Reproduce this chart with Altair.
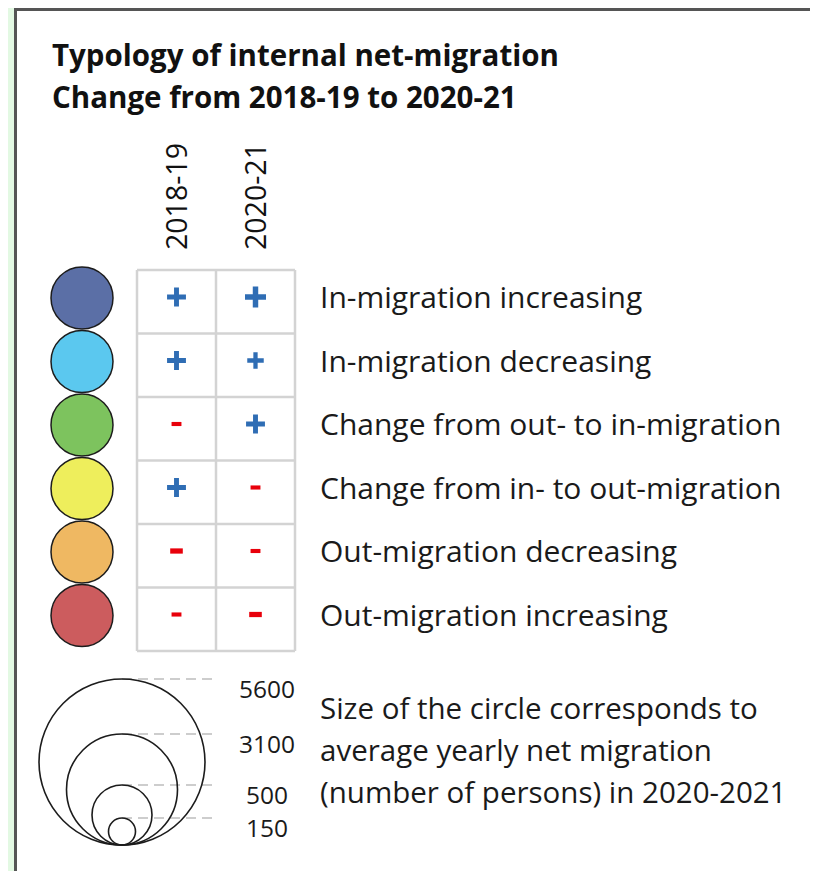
import altair as alt
import numpy as np
import pandas as pd

# ---------------- data ----------------
TITLE_LINES = ["Typology of internal net-migration", "Change from 2018-19 to 2020-21"]
PERIODS = ["2018-19", "2020-21"]
CATEGORIES = [
    "In-migration increasing",
    "In-migration decreasing",
    "Change from out- to in-migration",
    "Change from in- to out-migration",
    "Out-migration decreasing",
    "Out-migration increasing",
]
CAT_COLORS = ["#5b6fa6", "#5bc8ef", "#7dc35e", "#eeee5c", "#efb862", "#cc5c5e"]
SIGN_2018 = ["+", "+", "-", "+", "-", "-"]
SIGN_2020 = ["+", "+", "+", "-", "-", "-"]
MAG_2018 = ["M", "M", "S", "M", "L", "S"]
MAG_2020 = ["L", "S", "M", "S", "S", "L"]
SIZE_VALUES = [5600, 3100, 500, 150]
SIZE_NOTE = [
    "Size of the circle corresponds to",
    "average yearly net migration",
    "(number of persons) in 2020-2021",
]

# ---------------- layout / style ----------------
FONT = "Open Sans"
W, H = 802, 863
XS = alt.Scale(domain=[8, 8 + W], range=[0, W], nice=False, zero=False)
YS = alt.Scale(domain=[8, 8 + H], range=[0, H], nice=False, zero=False)

GRID_TOP, ROW_H = 270.0, 63.5
GRID_X = [137.0, 216.0, 295.0]
CIRCLE_X = 82
LABEL_X = 320
SIZE_CX, SIZE_BOTTOM = 122, 845
SIZE_STOPS = [150, 500, 3100, 5600]
SIZE_DIAMS = [27, 60, 111, 166]

PLUS = "M-1,-0.26H-0.26V-1H0.26V-0.26H1V0.26H0.26V1H-0.26V0.26H-1Z"
MINUS = "M-0.6,-0.25H0.6V0.25H-0.6Z"


def row_center(i):
    return GRID_TOP + ROW_H * i + 28


def X(f):
    return alt.X(f, type="quantitative", scale=XS, axis=None)


def Y(f):
    return alt.Y(f, type="quantitative", scale=YS, axis=None)


# ---------------- frame ----------------
panel = alt.Chart().mark_rect(fill="white").encode(
    x=alt.value(6), x2=alt.value(W), y=alt.value(1), y2=alt.value(H)
)
border_top = alt.Chart().mark_rule(color="#555555", strokeWidth=3).encode(
    x=alt.value(6), x2=alt.value(W), y=alt.value(1.5)
)
border_left = alt.Chart().mark_rule(color="#555555", strokeWidth=3).encode(
    x=alt.value(7.5), y=alt.value(0), y2=alt.value(H)
)

# ---------------- title ----------------
title_df = pd.DataFrame({"t": TITLE_LINES, "i": range(len(TITLE_LINES))})
title_df["x"] = 52
title_df["y"] = 66 + 42 * title_df["i"]
title = alt.Chart(title_df).mark_text(
    align="left", baseline="alphabetic", font=FONT, fontSize=29.5, fontWeight="bold", color="#111111"
).encode(x=X("x"), y=Y("y"), text="t:N")

# ---------------- column headers ----------------
col_df = pd.DataFrame({"p": PERIODS, "j": range(len(PERIODS))})
col_df["x"] = [(GRID_X[j] + GRID_X[j + 1]) / 2 + 1 for j in col_df["j"]]
col_df["y"] = 250
col_head = alt.Chart(col_df).mark_text(
    angle=270, align="left", baseline="middle", font=FONT, fontSize=28.5, color="#111111"
).encode(x=X("x"), y=Y("y"), text="p:N")

# ---------------- grid ----------------
n = len(CATEGORIES)
hl = pd.DataFrame({"y": [GRID_TOP + ROW_H * k for k in range(n + 1)]})
hl["x"], hl["x2"] = GRID_X[0], GRID_X[-1]
hgrid = alt.Chart(hl).mark_rule(color="#d3d3d3", strokeWidth=2.5).encode(
    x=X("x"), x2="x2", y=Y("y")
)
vl = pd.DataFrame({"x": GRID_X})
vl["y"], vl["y2"] = GRID_TOP, GRID_TOP + ROW_H * n
vgrid = alt.Chart(vl).mark_rule(color="#d3d3d3", strokeWidth=2.5).encode(
    x=X("x"), y=Y("y"), y2="y2"
)

# ---------------- category circles and labels ----------------
cat_df = pd.DataFrame({"cat": CATEGORIES, "i": range(n)})
cat_df["y"] = [row_center(i) for i in cat_df["i"]]
cat_df["x"] = CIRCLE_X
cat_df["lx"] = LABEL_X
cat_circles = alt.Chart(cat_df).mark_point(
    shape="circle", filled=True, size=3844, stroke="#1c1c1c", strokeWidth=1.5, opacity=1
).encode(
    x=X("x"), y=Y("y"),
    fill=alt.Fill("cat:N", scale=alt.Scale(domain=CATEGORIES, range=CAT_COLORS), legend=None),
)
cat_labels = alt.Chart(cat_df).mark_text(
    align="left", baseline="alphabetic", font=FONT, fontSize=30, color="#1a1a1a", dy=10
).encode(x=X("lx"), y=Y("y"), text="cat:N")

# ---------------- signs ----------------
rows = []
for i in range(n):
    for j, (signs, mags) in enumerate([(SIGN_2018, MAG_2018), (SIGN_2020, MAG_2020)]):
        rows.append({
            "i": i, "j": j, "sign": signs[i], "mag": mags[i],
            "path": PLUS if signs[i] == "+" else MINUS,
            "x": (GRID_X[j] + GRID_X[j + 1]) / 2,
            "y": row_center(i) - 1,
        })
sign_df = pd.DataFrame(rows)
signs = alt.Chart(sign_df).mark_point(filled=True, opacity=1, strokeWidth=0).encode(
    x=X("x"), y=Y("y"),
    shape=alt.Shape("path:N", scale=None),
    size=alt.Size("mag:O", scale=alt.Scale(domain=["S", "M", "L"], range=[272, 441, 700]), legend=None),
    color=alt.Color("sign:N", scale=alt.Scale(domain=["+", "-"], range=["#2f6db4", "#e8000b"]), legend=None),
)

# ---------------- size legend ----------------
sz = pd.DataFrame({"v": SIZE_VALUES})
diam = np.interp(sz["v"], SIZE_STOPS, SIZE_DIAMS)
sz["top"] = SIZE_BOTTOM - diam
sz["cy"] = SIZE_BOTTOM - diam / 2
sz["cx"] = SIZE_CX
sz["lx0"], sz["lx1"] = SIZE_CX, 212
sz["tx"] = 267
sz["ty"] = sz["top"] + 19
sz["lab"] = sz["v"].astype(str)

size_lines = alt.Chart(sz).mark_rule(color="#bdbdbd", strokeWidth=1.3, strokeDash=[10, 6]).encode(
    x=X("lx0"), x2="lx1", y=Y("top")
)
size_circles = alt.Chart(sz).mark_point(
    shape="circle", filled=False, stroke="#1c1c1c", strokeWidth=1.6, opacity=1
).encode(
    x=X("cx"), y=Y("cy"),
    size=alt.Size("v:Q", scale=alt.Scale(type="linear", domain=SIZE_STOPS,
                                          range=[d * d for d in SIZE_DIAMS]), legend=None),
)
size_labels = alt.Chart(sz).mark_text(
    align="center", baseline="alphabetic", font=FONT, fontSize=24.5, color="#1a1a1a"
).encode(x=X("tx"), y=Y("ty"), text="lab:N")

note_df = pd.DataFrame({"t": SIZE_NOTE, "i": range(len(SIZE_NOTE))})
note_df["x"] = LABEL_X
note_df["y"] = 719 + 42 * note_df["i"]
note = alt.Chart(note_df).mark_text(
    align="left", baseline="alphabetic", font=FONT, fontSize=29.5, color="#1a1a1a"
).encode(x=X("x"), y=Y("y"), text="t:N")

chart = alt.layer(
    panel, border_top, border_left, title, col_head, hgrid, vgrid,
    cat_circles, cat_labels, signs, size_lines, size_circles, size_labels, note,
).resolve_scale(
    size="independent", color="independent", fill="independent", shape="independent"
).properties(
    width=W, height=H, background="#e3f9e3", padding=0,
    autosize=alt.AutoSizeParams(type="none"),
).configure_view(stroke=None)

chart.save("out.html", embed_options={"renderer": "svg", "actions": False})
